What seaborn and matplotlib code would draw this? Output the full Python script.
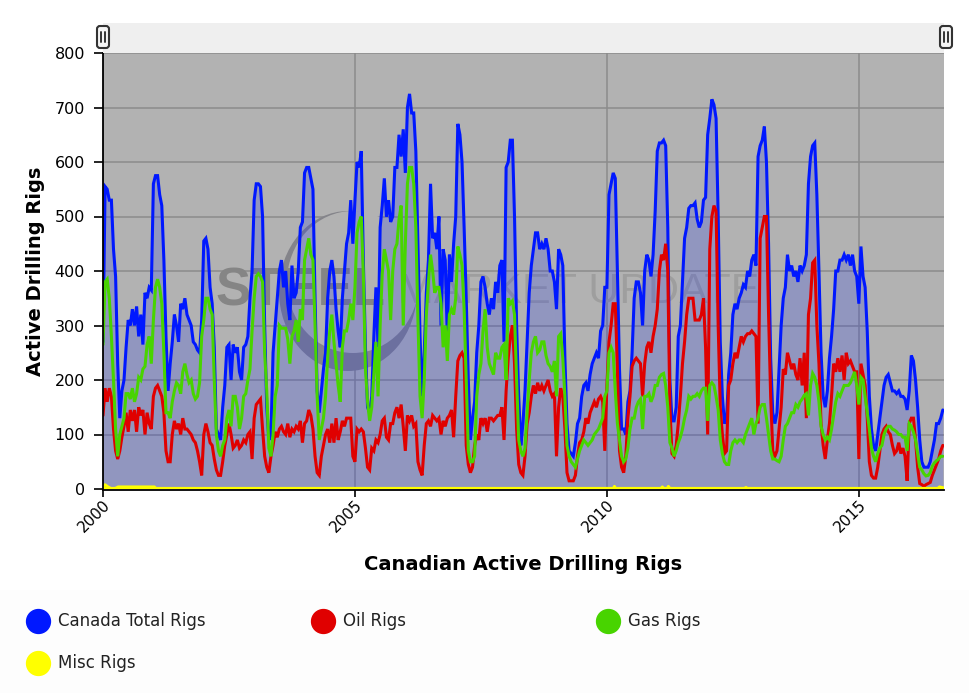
import numpy as np
import pandas as pd
import matplotlib
matplotlib.use("Agg")
import matplotlib.pyplot as plt
import seaborn as sns
from matplotlib.patches import Ellipse, FancyBboxPatch, Rectangle
from matplotlib.lines import Line2D

sns.set_theme(style="white")
plt.rcParams['font.family'] = ['DejaVu Sans']

# semi-monthly readings, starting at 2000.0
total = [270,555,550,530,530,440,390,230,130,180,200,260,310,300,330,300,335,280,320,265,360,350,370,365,
 560,575,575,540,520,420,280,180,230,270,320,300,270,340,330,350,320,310,300,270,265,255,250,310,
 455,460,440,370,340,260,110,100,90,150,190,260,265,200,265,250,260,215,200,260,265,280,350,400,
 530,560,560,555,500,300,150,90,100,250,300,350,400,420,370,400,340,310,410,350,360,400,480,490,
 580,590,590,570,550,350,180,140,180,220,250,350,400,420,390,330,290,260,350,400,450,470,530,450,
 530,600,590,620,420,260,150,140,170,280,370,260,480,520,570,500,530,490,500,590,590,650,610,660,
 580,700,725,690,690,620,450,280,170,250,360,420,560,460,470,440,500,300,440,420,280,430,380,450,
 500,670,650,600,480,350,200,90,130,160,250,300,380,390,370,340,320,350,330,380,360,410,420,270,
 590,600,640,640,500,300,170,80,120,180,270,360,410,440,470,470,440,450,440,460,440,400,400,380,
 330,440,430,410,240,120,70,65,60,85,120,130,170,190,195,180,210,230,240,250,240,290,300,370,
 370,540,560,580,570,400,220,110,110,100,160,180,250,350,380,380,360,300,400,430,420,390,430,510,
 620,635,635,640,630,480,200,125,125,150,280,300,380,460,480,515,520,520,525,495,480,490,530,535,
 650,680,715,705,680,500,270,170,120,130,210,250,320,340,330,350,360,375,370,400,390,420,430,410,
 610,630,640,665,600,450,240,140,120,140,220,300,350,370,430,400,410,390,400,380,410,400,410,430,
 560,610,630,635,540,400,250,170,150,180,240,280,330,400,400,420,420,430,420,430,410,430,400,390,
 340,445,390,370,290,170,110,80,70,100,130,160,190,205,210,195,180,180,175,180,170,170,165,145,
 180,245,235,200,150,90,50,40,40,40,50,70,90,120,120,130,145]

oil = [135,185,160,185,170,110,70,55,70,95,115,140,105,145,125,145,105,150,135,145,100,140,120,110,
 170,185,190,180,170,140,70,50,50,100,125,110,120,100,130,110,110,105,100,90,85,70,50,25,
 100,120,105,85,80,55,35,25,25,50,80,100,120,100,75,80,90,75,80,90,85,100,105,55,
 130,155,160,165,110,60,40,30,60,80,105,95,110,115,105,100,120,95,110,105,115,110,125,85,
 120,125,145,135,110,60,30,25,60,80,100,110,85,120,85,130,90,105,125,115,130,130,130,60,
 50,110,105,110,105,75,40,35,75,70,90,85,100,125,130,95,90,120,120,140,150,130,155,115,
 70,135,125,135,115,120,50,35,25,80,120,125,115,135,130,125,130,100,125,115,130,135,145,95,
 170,235,245,250,240,80,45,30,40,80,100,90,130,120,130,105,130,130,125,130,135,135,150,90,
 180,240,280,300,230,110,45,30,25,60,120,140,170,190,175,195,180,190,180,190,200,180,170,175,
 60,150,185,170,110,30,15,15,15,25,60,85,90,105,130,120,140,150,160,150,165,170,160,70,
 190,270,300,340,340,220,70,40,30,60,130,170,225,235,240,235,230,170,230,260,270,250,280,300,
 330,400,430,420,450,400,150,65,60,80,120,170,230,270,320,350,350,350,310,310,310,320,350,260,
 100,440,500,520,510,300,150,100,65,70,190,200,230,250,240,260,280,270,280,285,285,290,285,280,
 120,460,480,500,500,320,170,70,60,70,110,150,220,210,250,235,220,230,210,200,240,190,250,130,
 320,350,415,420,300,230,120,80,55,90,120,170,230,215,240,215,245,200,250,230,235,225,215,215,
 55,230,210,190,130,50,25,20,20,40,70,100,110,115,105,100,80,65,70,85,65,75,60,15,
 120,130,130,90,40,10,8,5,8,10,12,25,35,45,55,70,80]

gas = [265,380,385,350,280,200,110,60,100,115,130,175,175,165,185,160,175,205,200,220,225,265,280,230,
 310,370,385,370,340,250,140,140,130,160,180,195,190,175,215,230,210,195,200,175,165,170,195,280,
 310,350,350,330,320,200,100,70,60,80,90,130,145,115,170,170,150,110,130,170,175,200,220,290,
 350,390,395,390,380,250,180,75,60,100,170,190,300,295,295,295,275,230,280,290,310,270,330,310,
 420,440,460,430,420,300,170,90,110,130,170,240,290,320,270,230,190,160,260,290,290,310,340,310,
 370,470,490,500,395,220,160,125,150,210,270,170,300,395,440,420,400,310,400,440,450,495,520,300,
 450,560,590,590,560,480,310,170,130,200,320,380,430,400,360,370,370,340,260,300,235,320,330,320,
 350,445,430,410,330,200,70,50,50,60,170,210,230,290,330,260,230,220,210,250,240,240,260,265,
 200,350,340,345,320,200,90,70,60,75,140,200,250,270,280,250,255,270,270,245,230,225,215,235,
 170,280,285,240,170,80,60,50,45,40,55,70,80,90,85,80,85,90,100,105,110,120,130,170,
 180,250,260,250,180,120,90,60,50,55,75,110,130,130,150,160,165,110,170,170,175,160,170,190,
 190,205,210,212,190,150,85,75,60,70,85,95,110,130,145,170,165,170,170,175,170,180,185,185,
 125,190,195,190,170,145,90,65,50,45,45,70,85,90,85,90,90,85,100,110,120,130,100,120,
 130,150,155,155,130,100,70,55,55,52,50,60,90,115,120,130,140,140,155,150,160,165,172,175,
 135,190,212,205,190,160,115,100,90,95,90,110,135,160,175,170,180,190,190,190,195,205,215,190,
 155,205,200,170,140,110,75,60,50,65,75,80,100,110,115,115,110,108,105,100,100,95,95,70,
 120,115,105,90,65,40,35,28,24,25,30,42,48,52,55,60,60]

misc_years = [2000.0,2000.04,2000.1,2000.16,2000.22,2000.3,2001.02,2001.06,2010.12,2010.15,2010.18,
              2011.06,2011.1,2011.14,2011.19,2011.22,2011.26,2012.72,2012.76,2012.8,2016.55,2016.6,2016.69]
misc_vals = [4,8,4,1,0,4,4,0,0,5,0,0,4,0,0,5,0,0,3,0,0,4,2]

series = [("Canada Total Rigs", total, "#0018ff"), ("Oil Rigs", oil, "#e00000"),
          ("Gas Rigs", gas, "#48d400"), ("Misc Rigs", None, "#ffff00")]

W, H = 969, 693
fig = plt.figure(figsize=(W/100, H/100), dpi=100, facecolor="white")
ax = fig.add_axes([103/W, 1-489/H, (944-103)/W, (489-53)/H])
ax.set_facecolor("#b2b2b2")
ax.set_xlim(2000, 2016.69)
ax.set_ylim(0, 800)

def yr(px):
    return 2000 + (px-103)/50.4
def val(py):
    return (489-py)/0.545

# grid at the very back, then watermark, then the translucent area
ax.set_axisbelow(True)

ax.add_patch(Ellipse((yr(348), val(291)), 138/50.4, 160/0.545, fc="#84848a", ec="none", zorder=0.7))
ax.add_patch(Ellipse((yr(353), val(282)), 132/50.4, 142/0.545, fc="#b2b2b2", ec="none", zorder=0.8))
ax.text(yr(215), val(291), "STEEL", fontsize=38, fontweight="bold", family="Liberation Sans",
        color="#858585", va="center", ha="left", zorder=0.9)
ax.text(yr(398), val(292), "MARKET UPDATE", fontsize=31, family="Liberation Sans",
        color="#9e9e9e", va="center", ha="left", zorder=0.9)

t_total = 2000 + np.arange(len(total))/24
ax.fill_between(t_total, total, 0, color="#0018ff", alpha=0.18, lw=0, zorder=1)

for name, values, colour in series[:3]:
    df = pd.DataFrame({"year": 2000 + np.arange(len(values))/24, "rigs": values})
    sns.lineplot(data=df, x="year", y="rigs", color=colour, lw=2.2, ax=ax, zorder=3, label=None,
                 errorbar=None, estimator=None, solid_joinstyle="miter")
sns.lineplot(x=misc_years, y=misc_vals, color="#ffff00", lw=2.0, ax=ax, zorder=3.2, errorbar=None, estimator=None)
ax.plot([2000, 2016.69], [0, 0], color="#ffff00", lw=3.0, zorder=3.1)

for s in ["top", "right"]:
    ax.spines[s].set_visible(False)
for s in ["left", "bottom"]:
    ax.spines[s].set_color("black")
    ax.spines[s].set_linewidth(1.3)
    ax.spines[s].set_zorder(4)
ax.spines["bottom"].set_position(("outward", 1.0))

# ticks and labels come after the spine move, which resets the axis
ax.set_yticks(range(0, 801, 100))
ax.set_xticks([2000, 2005, 2010, 2015])
ax.set_xticklabels(["2000", "2005", "2010", "2015"])
ax.grid(True, color="#8c8c8c", lw=1.1)
ax.tick_params(axis="y", length=6.5, width=1.2, color="black", labelsize=11.5, labelcolor="black", left=True, pad=6.5)
ax.tick_params(axis="x", length=5, width=1.2, color="black", labelsize=11, labelcolor="black", bottom=True, pad=0)
plt.setp(ax.get_xticklabels(), rotation=45, ha="right", rotation_mode="anchor")
ax.set_xlabel("Canadian Active Drilling Rigs", fontsize=14, fontweight="bold", color="black", labelpad=14)
ax.set_ylabel("Active Drilling Rigs", fontsize=14, fontweight="bold", color="black", labelpad=7)

# overlay in pixel coordinates: range navigator and legend
ov = fig.add_axes([0, 0, 1, 1], facecolor="none")
ov.set_xlim(0, W); ov.set_ylim(H, 0); ov.axis("off")
ov.add_patch(Rectangle((0, 590), W, 103, fc="#fdfdfd", ec="none", zorder=0))
ov.add_patch(Rectangle((103, 23), 841, 30, fc="#efefef", ec="none"))
for hx in [103, 946]:
    ov.add_patch(FancyBboxPatch((hx-6, 26), 12, 22, boxstyle="round,pad=0,rounding_size=3",
                                fc="#f4f4f4", ec="#333333", lw=1.5, zorder=4))
    for dx in [-1.8, 1.8]:
        ov.plot([hx+dx, hx+dx], [32, 42], color="#333333", lw=1.4, zorder=5)

legend_items = [("Canada Total Rigs", "#0018ff", 38, 621), ("Oil Rigs", "#e00000", 323, 621),
                ("Gas Rigs", "#48d400", 608, 621), ("Misc Rigs", "#ffff00", 38, 663)]
for label, colour, lx, ly in legend_items:
    ov.add_line(Line2D([lx], [ly], marker="o", ms=17.2, mfc=colour, mec=colour, lw=0, zorder=5))
    ov.text(lx+20, ly, label, fontsize=12, color="#222222", va="center", ha="left")

fig.savefig("out.png", dpi=100, facecolor="white")
